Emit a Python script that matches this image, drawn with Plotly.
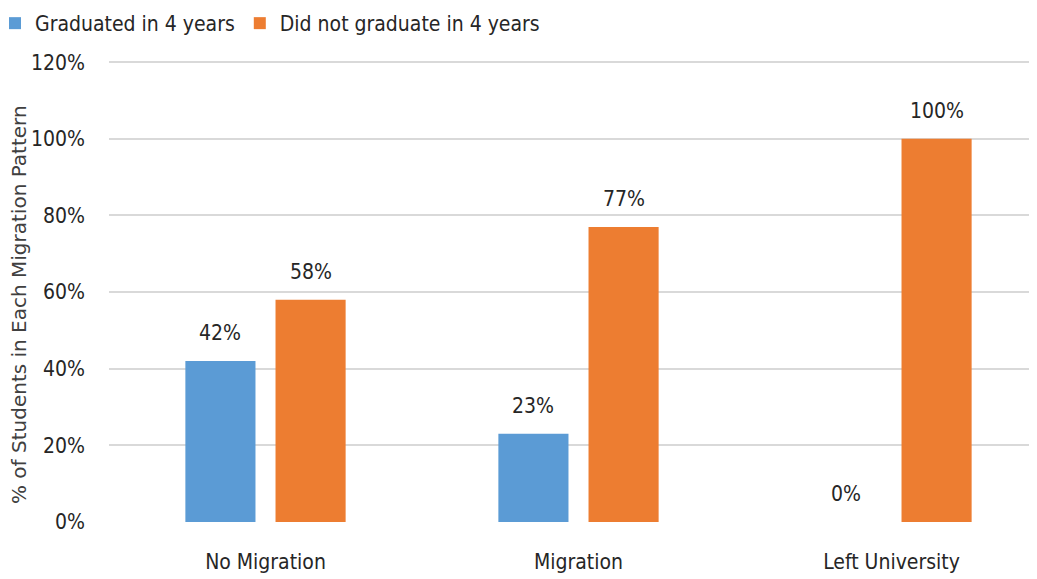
import plotly.graph_objects as go

categories = ["No Migration", "Migration", "Left University"]
graduated = [42, 23, 0]
not_graduated = [58, 77, 100]
series_names = ["Graduated in 4 years", "Did not graduate in 4 years"]
y_ticks = [0, 20, 40, 60, 80, 100, 120]
y_tick_labels = [f"{v}%" for v in y_ticks]

FONT = "DejaVu Sans Condensed, Arial"
BLUE = "#5B9BD5"
ORANGE = "#ED7D31"

W = 0.224
OFF = 0.144
ML, MT, MB, MR = 101, 53, 65, 0
PLOT_H = 579 - MT - MB
PLOT_W = 1037 - ML - MR

fig = go.Figure()
fig.add_trace(go.Bar(x=list(range(len(categories))), y=graduated, name=series_names[0],
                     marker=dict(color=BLUE, line=dict(width=0)), width=W, offset=-OFF - W / 2))
fig.add_trace(go.Bar(x=list(range(len(categories))), y=not_graduated, name=series_names[1],
                     marker=dict(color=ORANGE, line=dict(width=0)), width=W, offset=OFF - W / 2))

annotations = []
for i, (g, n) in enumerate(zip(graduated, not_graduated)):
    for val, sh in ((g, -OFF), (n, OFF)):
        annotations.append(dict(x=i + sh, y=val, text=f"{val}%", showarrow=False,
                                xref="x", yref="y", yanchor="bottom", yshift=14,
                                font=dict(family=FONT, size=21, color="#262626")))

annotations.append(dict(x=(19 - 109) / PLOT_W, y=(522 - 305) / PLOT_H, xref="paper", yref="paper",
                        text="% of Students in Each Migration Pattern", textangle=-90,
                        showarrow=False, xanchor="center", yanchor="middle",
                        font=dict(family="DejaVu Sans", size=20, color="#404040")))

fig.update_layout(
    width=1037, height=579,
    margin=dict(l=ML, r=MR, t=MT, b=MB, autoexpand=False),
    plot_bgcolor="white", paper_bgcolor="white",
    barmode="overlay",
    font=dict(family=FONT, size=21, color="#262626"),
    annotations=annotations,
    legend=dict(orientation="h", x=(-6 - 108) / PLOT_W, xanchor="left",
                y=1.0 + (61 - 3) / PLOT_H, yanchor="top",
                font=dict(family=FONT, size=21, color="#262626"), tracegroupgap=0),
    xaxis=dict(range=[-0.5, -0.5 + PLOT_W / 313], tickmode="array",
               tickvals=list(range(len(categories))),
               ticktext=categories, showgrid=False, zeroline=False, showline=False,
               ticks="", ticklabelstandoff=25,
               tickfont=dict(family=FONT, size=21, color="#262626")),
    yaxis=dict(range=[0, 120.3], tickvals=y_ticks, ticktext=y_tick_labels, showgrid=True,
               gridcolor="#D9D9D9", gridwidth=1.5, zeroline=False, showline=False, ticks="",
               ticklabelstandoff=23,
               tickfont=dict(family=FONT, size=21, color="#262626")),
)

fig.write_html("out.html")
